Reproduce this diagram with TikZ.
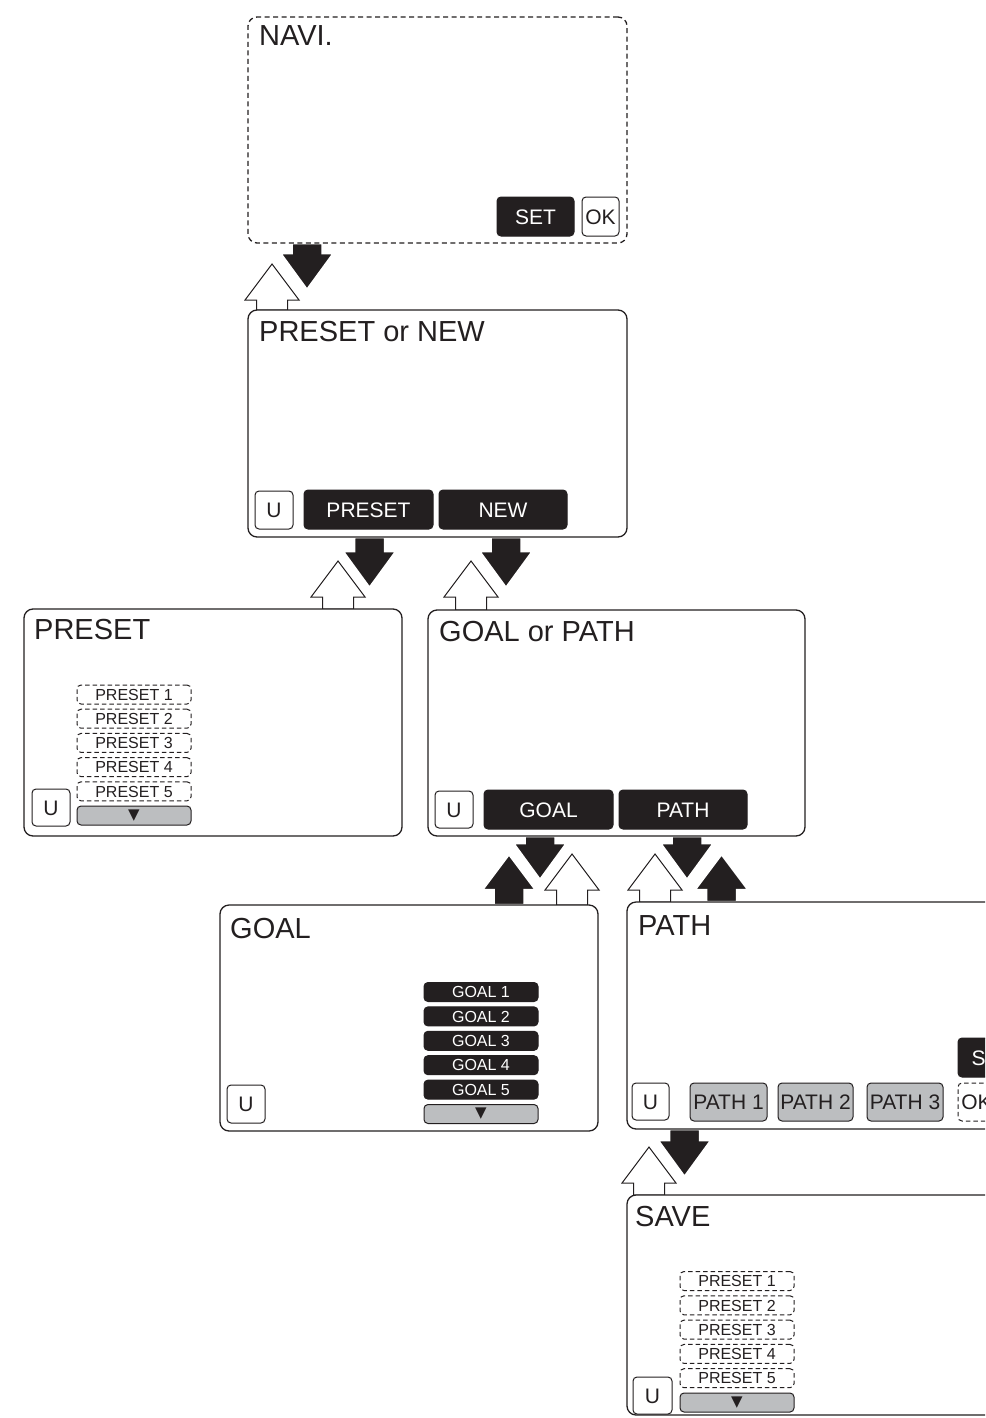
\documentclass[tikz,border=0pt]{standalone}
\usepackage{fontspec}
\setmainfont{Liberation Sans}
\newfontfamily\symfont{DejaVu Sans}
\usetikzlibrary{calc}
\pgfdeclarelayer{under}
\pgfsetlayers{under,main}
\definecolor{ink}{HTML}{231F20}
\definecolor{barfill}{HTML}{BCBEC0}

\tikzset{
  screen/.style={draw=ink, line width=1.3pt, rounded corners=9pt, fill=white,
    inner sep=0pt, outer sep=0pt, anchor=north west},
  screentitle/.style={anchor=base west, inner sep=0pt, text=ink,
    font=\fontsize{29}{31}\selectfont},
  keybase/.style={rounded corners=4pt, inner sep=0pt, outer sep=0pt, line width=1pt,
    font=\fontsize{21}{23}\selectfont, text height=15pt, text depth=0pt},
  keydark/.style={keybase, fill=ink, draw=ink, text=white},
  keylight/.style={keybase, fill=white, draw=ink, text=ink},
  keygray/.style={keybase, fill=barfill, draw=ink, text=ink},
  listbase/.style={rounded corners=4pt, inner sep=0pt, outer sep=0pt, line width=1pt,
    minimum width=114pt, minimum height=19pt,
    font=\fontsize{16}{18}\selectfont, text height=11.5pt, text depth=0pt},
  slot/.style={listbase, draw=ink, fill=white, text=ink, dash pattern=on 4.5pt off 3pt},
  goalslot/.style={listbase, draw=ink, fill=ink, text=white},
  scrollbar/.style={listbase, draw=ink, fill=barfill, text=ink,
    font={\symfont\fontsize{15}{16}\selectfont}, text height=, text depth=},
  blackflow/.style={fill=ink, draw=white, line width=2.5pt, line join=miter},
  whiteflow/.style={fill=white, draw=ink, line width=1pt, line join=miter},
}

% block arrow pointing down: style, centre x, anchor it leaves from, tip y
\newcommand\flowdown[4]{%
  \path[#1] let \p1=(#3) in
    ({(#2-15.5)*1pt},\y1) -- ({(#2-15.5)*1pt},{(37-#4)*1pt})
    -- ({(#2-27)*1pt},{(37-#4)*1pt}) -- ({#2*1pt},{-#4*1pt})
    -- ({(#2+27)*1pt},{(37-#4)*1pt}) -- ({(#2+15.5)*1pt},{(37-#4)*1pt})
    -- ({(#2+15.5)*1pt},\y1) -- cycle;}
% block arrow pointing up: style, centre x, anchor it rises from, tip y
\newcommand\flowup[4]{%
  \path[#1] let \p1=(#3) in
    ({(#2-15.5)*1pt},\y1) -- ({(#2-15.5)*1pt},{(-#4-36)*1pt})
    -- ({(#2-27)*1pt},{(-#4-36)*1pt}) -- ({#2*1pt},{-#4*1pt})
    -- ({(#2+27)*1pt},{(-#4-36)*1pt}) -- ({(#2+15.5)*1pt},{(-#4-36)*1pt})
    -- ({(#2+15.5)*1pt},\y1) -- cycle;}

\begin{document}
\begin{tikzpicture}[x=1pt, y=-1pt]
\useasboundingbox (0,0) rectangle (985,1418);
\clip (0,0) rectangle (985,1418);

% NAVI. screen
\node[screen, dash pattern=on 5pt off 3.5pt, minimum width=379pt, minimum height=226pt] (naviscr) at (248,17) {};
\node[screentitle] (navititle) at (259,46) {NAVI.};
\node[keydark, minimum width=77pt, minimum height=39pt] (naviset) at (535.5,216.5) {SET};
\node[keylight, minimum width=37pt, minimum height=39pt] (naviok) at (600.5,216.5) {OK};

% PRESET or NEW screen
\node[screen, minimum width=379pt, minimum height=227pt] (prenewscr) at (248,310) {};
\node[screentitle] (prenewtitle) at (259,341) {PRESET or NEW};
\node[keylight, minimum width=38pt, minimum height=38pt] (prenewu) at (274,510) {U};
\node[keydark, minimum width=129pt, minimum height=39pt] (prenewpreset) at (368.5,509.5) {PRESET};
\node[keydark, minimum width=128pt, minimum height=39pt] (prenewnew) at (503,509.5) {NEW};

% PRESET screen
\node[screen, minimum width=378pt, minimum height=227pt] (presetscr) at (24,609) {};
\node[screentitle] (presettitle) at (34,639) {PRESET};
\node[keylight, minimum width=38pt, minimum height=37pt] (presetu) at (51,807.5) {U};
\foreach \k in {1,...,5}
  \node[slot] (presetslot\k) at (134,{694.5+24.2*(\k-1)}) {PRESET \k};
\node[scrollbar] (presetscroll) at (134,815.5) {▼};

% GOAL or PATH screen
\node[screen, minimum width=377pt, minimum height=226pt] (gpscr) at (428,610) {};
\node[screentitle] (gptitle) at (439,641) {GOAL or PATH};
\node[keylight, minimum width=38pt, minimum height=37pt] (gpu) at (454,809.5) {U};
\node[keydark, minimum width=129pt, minimum height=39pt] (gpgoal) at (548.5,809.5) {GOAL};
\node[keydark, minimum width=128pt, minimum height=39pt] (gppath) at (683,809.5) {PATH};

% GOAL screen
\node[screen, minimum width=378pt, minimum height=226pt] (goalscr) at (220,905) {};
\node[screentitle] (goaltitle) at (230,938) {GOAL};
\node[keylight, minimum width=38pt, minimum height=38pt] (goalu) at (246,1104) {U};
\foreach \k in {1,...,5}
  \node[goalslot] (goalslot\k) at (481,{992+24.4*(\k-1)}) {GOAL \k};
\node[scrollbar] (goalscroll) at (481,1114) {▼};

% PATH screen
\node[screen, minimum width=379pt, minimum height=227pt] (pathscr) at (627,902) {};
\node[screentitle] (pathtitle) at (638,935) {PATH};
\node[keylight, minimum width=37pt, minimum height=37pt] (pathu) at (650.5,1101.5) {U};
\node[keygray, minimum width=77pt, minimum height=38pt] (path1) at (728.5,1102) {PATH 1};
\node[keygray, minimum width=75pt, minimum height=38pt] (path2) at (815.5,1102) {PATH 2};
\node[keygray, minimum width=76pt, minimum height=38pt] (path3) at (905,1102) {PATH 3};
\node[keydark, minimum width=68pt, minimum height=39pt] (pathset) at (992,1057.5) {SET};
\node[keylight, dash pattern=on 4.5pt off 3pt, minimum width=37pt, minimum height=38pt] (pathok) at (976.5,1102) {OK};

% SAVE screen
\node[screen, minimum width=379pt, minimum height=220pt] (savescr) at (627,1195) {};
\node[screentitle] (savetitle) at (635,1226) {SAVE};
\node[keylight, minimum width=39pt, minimum height=37pt] (saveu) at (652.5,1395.5) {U};
\foreach \k in {1,...,5}
  \node[slot] (saveslot\k) at (737,{1281+24.3*(\k-1)}) {PRESET \k};
\node[scrollbar] (savescroll) at (737,1402.5) {▼};

% transitions between the screens
\begin{pgfonlayer}{under}
  \flowup{whiteflow}{272}{prenewscr.north}{264}
  \flowup{whiteflow}{338}{presetscr.north}{561}
  \flowup{whiteflow}{471}{gpscr.north}{561}
  \flowup{whiteflow}{572}{goalscr.north}{854}
  \flowup{whiteflow}{655}{pathscr.north}{854}
  \flowup{whiteflow}{649}{savescr.north}{1147}
  \flowdown{blackflow}{307}{naviscr.south}{290}
  \flowdown{blackflow}{369.5}{prenewscr.south}{588}
  \flowdown{blackflow}{506}{prenewscr.south}{588}
  \flowdown{blackflow}{540}{gpscr.south}{880}
  \flowdown{blackflow}{687}{gpscr.south}{880}
  \flowdown{blackflow}{684.5}{pathscr.south}{1177}
  \flowup{blackflow}{509}{goalscr.north}{854}
  \flowup{blackflow}{721.5}{pathscr.north}{854}
\end{pgfonlayer}
\end{tikzpicture}
\end{document}
